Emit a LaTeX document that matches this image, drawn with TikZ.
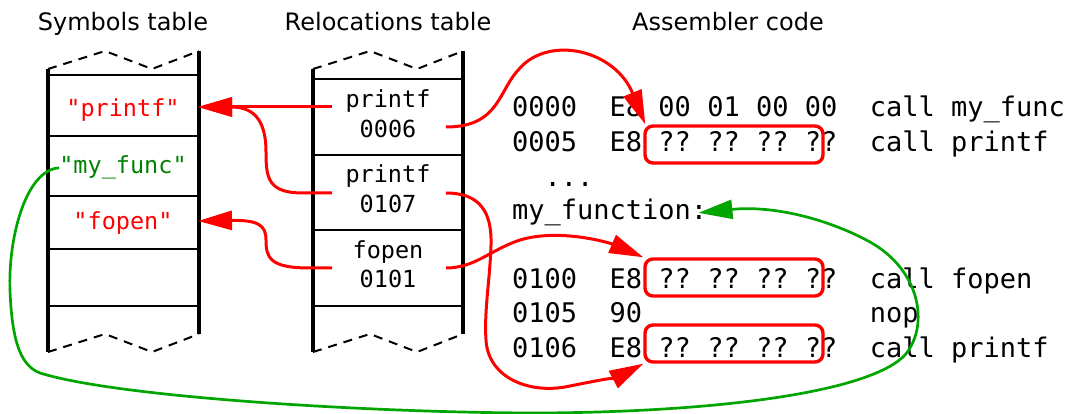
\documentclass[tikz,border=0pt]{standalone}
\usepackage{fontspec}
\setmainfont{DejaVu Sans}
\setmonofont{DejaVu Sans Mono}
\usetikzlibrary{arrows.meta}

\definecolor{linkgreen}{RGB}{0,165,0}
\definecolor{symgreen}{RGB}{0,128,0}

\begin{document}
\begin{tikzpicture}[x=1pt, y=-1pt, >={Triangle[length=34pt,width=19pt]},
        title/.style={font=\fontsize{24}{24}\selectfont, inner sep=0pt, anchor=base},
        tabtext/.style={font=\ttfamily\fontsize{23.5}{23.5}\selectfont, inner sep=0pt, anchor=base},
        codeline/.style={font=\ttfamily\fontsize{27}{27}\selectfont, inner sep=0pt, anchor=base west},
        wall/.style={line width=3.6pt},
        row/.style={line width=2pt},
        torn/.style={dashed, dash pattern=on 9pt off 7pt, line width=2pt},
        qbox/.style={draw=red, line width=3.4pt, rounded corners=8pt, minimum width=178pt, minimum height=37pt, inner sep=0pt},
        link/.style={->, red, line width=3pt},
        backlink/.style={->, linkgreen, line width=2.7pt}]
        \useasboundingbox (0,0) rectangle (1072,414);

        % Titles
        \node[title] (symtitle) at (123,31) {Symbols table};
        \node[title] (reltitle) at (388,31) {Relocations table};
        \node[title] (asmtitle) at (728,31) {Assembler code};

        % Symbols table
        \draw[torn] (48,69) -- (105,51) -- (152,69) -- (199,51);
        \draw[torn] (48,352) -- (105,334) -- (152,352) -- (199,334);
        \draw[wall] (48,69) -- (48,352);
        \draw[wall] (199,51) -- (199,334);
        \draw[row] (48,75) -- (199,75);
        \draw[row] (48,136) -- (199,136);
        \draw[row] (48,196) -- (199,196);
        \draw[row] (48,249) -- (199,249);
        \draw[row] (48,306) -- (199,306);
        \node[tabtext, red] (symprintf) at (123,117) {"printf"};
        \node[tabtext, symgreen] (symfunc) at (123,174) {"my\_func"};
        \node[tabtext, red] (symfopen) at (123,230) {"fopen"};

        % Relocations table
        \draw[torn] (313,69) -- (370,51) -- (417,69) -- (463,51);
        \draw[torn] (313,352) -- (370,334) -- (417,352) -- (463,334);
        \draw[wall] (313,69) -- (313,352);
        \draw[wall] (463,51) -- (463,334);
        \draw[row] (313,79) -- (463,79);
        \draw[row] (313,155) -- (463,155);
        \draw[row] (313,230) -- (463,230);
        \draw[row] (313,306) -- (463,306);
        \node[tabtext] (rel1name) at (388,108) {printf};
        \node[tabtext] (rel1addr) at (388,138) {0006};
        \node[tabtext] (rel2name) at (388,183) {printf};
        \node[tabtext] (rel2addr) at (388,213) {0107};
        \node[tabtext] (rel3name) at (388,259) {fopen};
        \node[tabtext] (rel3addr) at (388,288) {0101};

        % Assembler code
        \node[codeline] (c0) at (512,117) {0000~~E8~00~01~00~00~~call~my\_func};
        \node[codeline] (c1) at (512,151.3) {0005~~E8~??~??~??~??~~call~printf};
        \node[codeline] (dots) at (512,186.5) {~~...};
        \node[codeline] (mf) at (512,219.9) {my\_function:};
        \node[codeline] (c5) at (512,288.5) {0100~~E8~??~??~??~??~~call~fopen};
        \node[codeline] (c6) at (512,322.8) {0105~~90~~~~~~~~~~~~~~nop};
        \node[codeline] (c7) at (512,357.1) {0106~~E8~??~??~??~??~~call~printf};
        \node[qbox] (q1) at (734,144.5) {};
        \node[qbox] (q2) at (734,277.5) {};
        \node[qbox] (q3) at (734,343.5) {};

        % Connector ends
        \coordinate (rel1in) at (332,107);
        \coordinate (rel1out) at (446,127);
        \coordinate (rel2in) at (332,193);
        \coordinate (rel2out) at (446,193);
        \coordinate (rel3in) at (332,268);
        \coordinate (rel3out) at (446,268);
        \coordinate (symin1) at (198,107);
        \coordinate (symin3) at (198,221);

        % Relocations to symbols
        \draw[link] (rel1in) -- (symin1);
        \draw[link] (rel2in) -- (303,193) .. controls (268,193) and (266,178) .. (266,152) .. controls (266,118) and (252,107) .. (symin1);
        \draw[link] (rel3in) -- (310,268) .. controls (270,268) and (266,258) .. (266,240) .. controls (266,225) and (258,220) .. (symin3);

        % Relocations to code
        \draw[link] (rel1out) .. controls (500,127) and (498,90) .. (520,68) .. controls (550,35) and (615,50) .. ([xshift=2pt]q1.north west);
        \draw[link] (rel3out) .. controls (475,268) and (490,250) .. (520,240) .. controls (560,228) and (610,243) .. (q2.north west);
        \draw[link] (rel2out) .. controls (480,193) and (492,212) .. (491,245) .. controls (490,280) and (484,310) .. (486,340) .. controls (488,378) and (530,395) .. (570,386) .. controls (595,381) and (620,376) .. (q3.south west);

        % Symbol to function
        \draw[backlink] (symfunc.west) .. controls (25,170) and (8,240) .. (10,290) .. controls (12,345) and (22,366) .. (40,373) .. controls (120,398) and (380,413) .. (540,413) .. controls (720,412) and (870,392) .. (905,355) .. controls (930,325) and (920,270) .. (870,242) .. controls (830,220) and (775,205) .. ([xshift=-9pt]mf.east);
\end{tikzpicture}
\end{document}
